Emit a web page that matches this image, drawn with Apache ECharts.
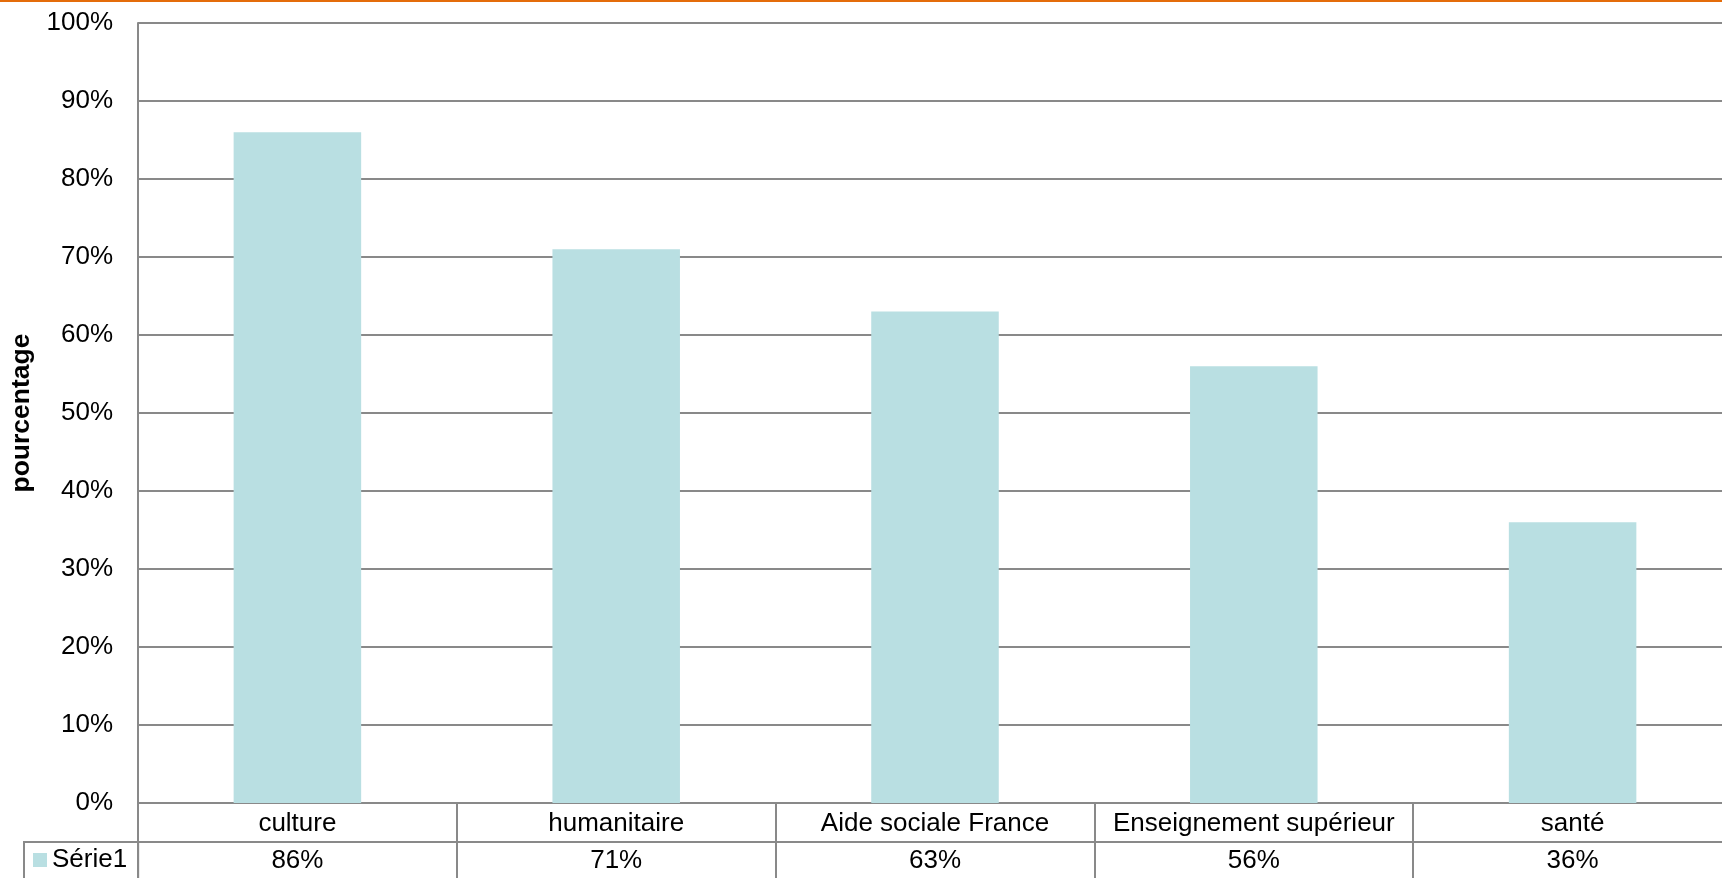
<!DOCTYPE html>
<html>
<head>
<meta charset="utf-8">
<script src="https://cdn.jsdelivr.net/npm/echarts@6/dist/echarts.min.js"></script>
<style>
  html, body { margin: 0; padding: 0; background: #fff; }
  #chart { width: 1722px; height: 878px; }
  #topline { position: absolute; left: 0; top: 0; width: 1722px; height: 2px; background: #E46C0A; z-index: 5; }
</style>
</head>
<body>
<div id="topline"></div>
<div id="chart"></div>
<script>
const categories = ['culture', 'humanitaire', 'Aide sociale France', 'Enseignement supérieur', 'santé'];
const seriesName = 'Série1';
const values = [86, 71, 63, 56, 36];
const valueLabels = ['86%', '71%', '63%', '56%', '36%'];
const yAxisName = 'pourcentage';

const FONT = '"Liberation Sans", Arial, sans-serif';
const LINE = '#898989';

const chart = echarts.init(document.getElementById('chart'), null, { renderer: 'canvas' });
chart.setOption({
  animation: false,
  backgroundColor: '#ffffff',
  textStyle: { fontFamily: FONT },
  grid: { left: 138, top: 23, right: -10, bottom: 75, containLabel: false, outerBoundsMode: 'none' },
  legend: {
    show: true,
    data: [{ name: seriesName, icon: 'rect' }],
    left: 24,
    top: 842,
    orient: 'horizontal',
    itemWidth: 14,
    itemHeight: 14,
    padding: [5, 11, 20, 9],
    borderColor: LINE,
    borderWidth: 2,
    borderRadius: 0,
    selectedMode: false,
    textStyle: { fontFamily: FONT, fontSize: 26, color: '#000', lineHeight: 26, padding: [0, 0, 0, 0] }
  },
  xAxis: [
    {
      type: 'category',
      data: categories,
      position: 'bottom',
      boundaryGap: true,
      axisLine: { show: true, lineStyle: { color: LINE, width: 2 } },
      axisTick: { show: true, inside: false, length: 39, interval: 0, lineStyle: { color: LINE, width: 2 } },
      axisLabel: { interval: 0, margin: 8, fontFamily: FONT, fontSize: 26, color: '#000' },
      splitLine: { show: false }
    },
    {
      type: 'category',
      data: valueLabels,
      position: 'bottom',
      offset: 39,
      boundaryGap: true,
      axisLine: { show: true, lineStyle: { color: LINE, width: 2 } },
      axisTick: { show: true, inside: false, length: 40, interval: 0, lineStyle: { color: LINE, width: 2 } },
      axisLabel: { interval: 0, margin: 6, fontFamily: FONT, fontSize: 26, color: '#000' },
      splitLine: { show: false }
    }
  ],
  yAxis: {
    type: 'value',
    min: 0,
    max: 100,
    interval: 10,
    name: yAxisName,
    nameLocation: 'middle',
    nameGap: 91,
    nameRotate: 90,
    nameTextStyle: { fontFamily: FONT, fontSize: 26.5, fontWeight: 'bold', color: '#000' },
    axisLine: { show: true, lineStyle: { color: LINE, width: 2 } },
    axisTick: { show: false },
    axisLabel: { formatter: '{value}%', margin: 25, fontFamily: FONT, fontSize: 26, color: '#000' },
    splitLine: { show: true, lineStyle: { color: LINE, width: 2 } }
  },
  series: [
    {
      name: seriesName,
      type: 'bar',
      xAxisIndex: 0,
      data: values,
      barWidth: '40%',
      itemStyle: { color: '#B9DFE2' }
    }
  ]
});
</script>
</body>
</html>
